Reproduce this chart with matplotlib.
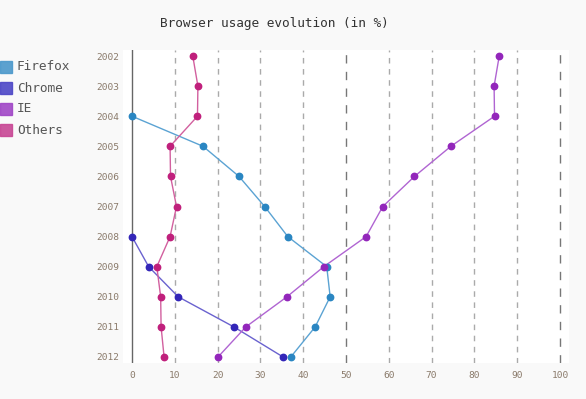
import matplotlib
matplotlib.use("Agg")
import matplotlib.pyplot as plt
import numpy as np

years = list(range(2002, 2013))
firefox = [None, None, 0, 16.6, 25, 31, 36.4, 45.5, 46.3, 42.8, 37.1]
chrome = [None, None, None, None, None, None, 0, 3.9, 10.8, 23.8, 35.3]
ie = [85.8, 84.6, 84.7, 74.5, 66, 58.6, 54.7, 44.8, 36.2, 26.6, 20.1]
others = [14.2, 15.4, 15.3, 8.9, 9, 10.4, 8.9, 5.8, 6.7, 6.8, 7.5]

names = ["Firefox", "Chrome", "IE", "Others"]
series = [firefox, chrome, ie, others]
dot_colors = ["#2a86c2", "#3326b8", "#9326bb", "#c0207c"]
line_colors = ["#5ba3d3", "#6a62cf", "#b065d2", "#d2609f"]
legend_colors = ["#4b98cb", "#4c46c6", "#a046c6", "#c84694"]

plt.rcParams['font.family'] = ['DejaVu Sans Mono']

fig = plt.figure(figsize=(5.86, 3.99), dpi=100)
fig.patch.set_facecolor("#f9f9f9")
ax = fig.add_axes([123/586, 36/399, 446/586, 313/399])
ax.set_facecolor("white")

# grille verticale en pointillés
for v in range(10, 101, 10):
    major = v % 50 == 0
    ax.axvline(v, color="#777777" if major else "#aaaaaa", lw=1.0,
               dashes=(6, 6) if major else (4, 4), zorder=1)
ax.axvline(0, color="#666666", lw=1.0, zorder=1)

for vals, lc, dc in zip(series, line_colors, dot_colors):
    xs = np.array([np.nan if v is None else v for v in vals], dtype=float)
    ax.plot(xs, years, color=lc, lw=1.0, zorder=2)
    ax.plot(xs, years, 'o', color=dc, ms=4.6, mec=dc, zorder=3)

ax.set_xlim(-2.1, 102.1)
ax.set_ylim(2012.2, 2001.8)
ax.set_xticks(range(0, 101, 10))
ax.set_yticks(years)
ax.set_yticklabels([str(y) for y in years])
ax.tick_params(length=0, labelsize=6.8, colors="#8a7a6a")
ax.tick_params(axis='y', pad=3)
ax.tick_params(axis='x', pad=6)
for s in ax.spines.values():
    s.set_visible(False)

fig.text(274/586, 1 - 24/399, "Browser usage evolution (in %)", ha="center",
         va="center", fontsize=9.2, color="#333333")

# légende à gauche
for i, (n, c) in enumerate(zip(names, legend_colors)):
    y = 67 + i * 21
    fig.patches.append(plt.Rectangle((0, 1 - (y + 6) / 399), 12/586, 12/399,
                                     transform=fig.transFigure, facecolor=c,
                                     edgecolor=c, alpha=0.9))
    fig.text(17/586, 1 - y/399, n, ha="left", va="center", fontsize=9.2,
             color="#555555")

fig.savefig("out.png", dpi=100, facecolor=fig.get_facecolor())
